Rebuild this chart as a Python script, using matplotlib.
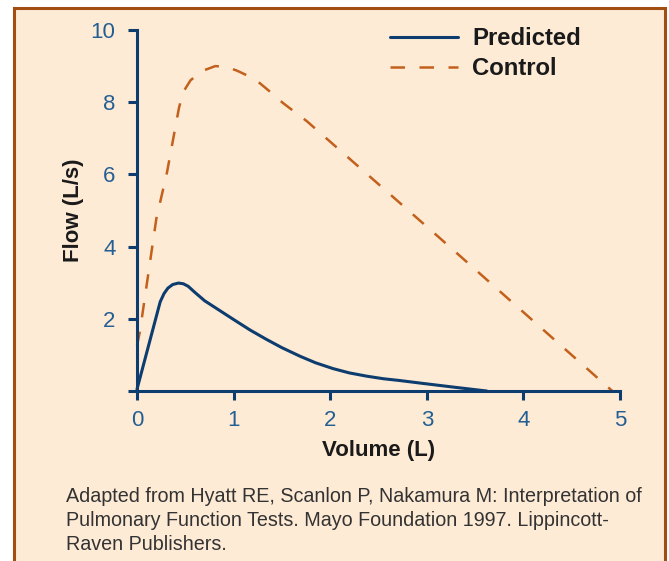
import matplotlib
matplotlib.use("Agg")
import matplotlib.pyplot as plt
from matplotlib.patches import Rectangle


# values
volume_predicted = [0.0, 0.24, 0.28, 0.32, 0.37, 0.43, 0.48, 0.53, 0.60, 0.70,
                    0.85, 1.00, 1.17, 1.34, 1.50, 1.69, 1.85, 2.03, 2.20, 2.38,
                    2.55, 2.72, 2.96, 3.30, 3.62]
flow_predicted = [0.05, 2.47, 2.70, 2.85, 2.95, 2.99, 2.97, 2.90, 2.73, 2.50,
                  2.24, 1.98, 1.69, 1.43, 1.20, 0.96, 0.78, 0.62, 0.50, 0.41,
                  0.34, 0.29, 0.21, 0.10, 0.0]

volume_control = [0.0, 0.03, 0.20, 0.31, 0.38, 0.435, 0.48, 0.555, 0.68, 0.81,
                  0.92, 1.03, 1.15, 1.27, 1.40, 1.51, 1.76, 3.15, 4.92]
flow_control = [1.25, 1.65, 4.77, 6.05, 7.06, 7.85, 8.29, 8.61, 8.87, 9.00,
                8.98, 8.88, 8.73, 8.53, 8.24, 7.98, 7.47, 4.20, 0.0]

x_ticks = [0, 1, 2, 3, 4, 5]
y_ticks = [0, 2, 4, 6, 8, 10]
y_tick_labels = ["", "2", "4", "6", "8", "10"]

caption = ("Adapted from Hyatt RE, Scanlon P, Nakamura M: Interpretation of\n"
           "Pulmonary Function Tests. Mayo Foundation 1997. Lippincott-\n"
           "Raven Publishers.")

NAVY = "#0d3c6e"
TICK_BLUE = "#245f93"
ORANGE = "#c2601c"
PEACH = "#feebd6"
BORDER = "#a24e12"

W, H = 669, 561


def main():
    fig = plt.figure(figsize=(W / 100, H / 100), dpi=100, facecolor="white")

    # peach panel with brown frame (bottom edge runs off the picture)
    panel = Rectangle((14 / W, -0.05), (665 - 14) / W, (H - 8) / H + 0.05,
                      transform=fig.transFigure, facecolor=PEACH,
                      edgecolor=BORDER, linewidth=2.2, zorder=-5)
    fig.patches.append(panel)

    ax = fig.add_axes([137 / W, (H - 391) / H, (620 - 137) / W, (391 - 30) / H])
    ax.set_facecolor("none")
    ax.set_zorder(2)

    ax.plot(volume_predicted, flow_predicted, color=NAVY, linewidth=2.2,
            solid_capstyle="round", solid_joinstyle="round", clip_on=False,
            label="Predicted")
    ax.plot(volume_control, flow_control, color=ORANGE, linewidth=1.8,
            linestyle=(0, (5.8, 5.8)), clip_on=False, label="Control")

    ax.set_xlim(0, 5)
    ax.set_ylim(0, 10)

    for side in ("top", "right"):
        ax.spines[side].set_visible(False)
    for side in ("left", "bottom"):
        ax.spines[side].set_color(NAVY)
        ax.spines[side].set_linewidth(2.2)

    tick_font = {"family": ["Liberation Sans", "DejaVu Sans"], "size": 16}
    ax.set_xticks(x_ticks)
    ax.set_xticklabels([str(t) for t in x_ticks], fontdict=tick_font, color=TICK_BLUE)
    ax.set_yticks(y_ticks)
    ax.set_yticklabels(y_tick_labels, fontdict=tick_font, color=TICK_BLUE)
    ax.tick_params(axis="both", direction="out", length=6.5, width=2.2, color=NAVY)
    ax.tick_params(axis="y", pad=9)
    ax.tick_params(axis="x", pad=7)

    label_font = {"family": ["Liberation Sans", "DejaVu Sans"], "size": 16,
                  "weight": "bold", "color": "#1a1a1a"}
    ax.set_xlabel("Volume (L)", fontdict=label_font, labelpad=7)
    ax.set_ylabel("Flow (L/s)", fontdict=label_font, labelpad=5)

    leg = ax.legend(loc="upper left", bbox_to_anchor=(390 / W, 1 - 27 / H),
                    bbox_transform=fig.transFigure, frameon=False, borderpad=0,
                    borderaxespad=0, handlelength=2.85, handletextpad=0.6,
                    labelspacing=0.3,
                    prop={"family": ["Liberation Sans", "DejaVu Sans"],
                          "size": 17.2, "weight": "bold"})
    for text in leg.get_texts():
        text.set_color("#1a1a1a")

    fig.text(66 / W, 1 - 487 / H, caption, ha="left", va="top",
             family=["Liberation Sans", "DejaVu Sans"],
             fontsize=14.2, color="#333333", linespacing=1.33)

    fig.savefig("out.png", dpi=100, facecolor="white")
    plt.close(fig)


if __name__ == "__main__":
    main()
